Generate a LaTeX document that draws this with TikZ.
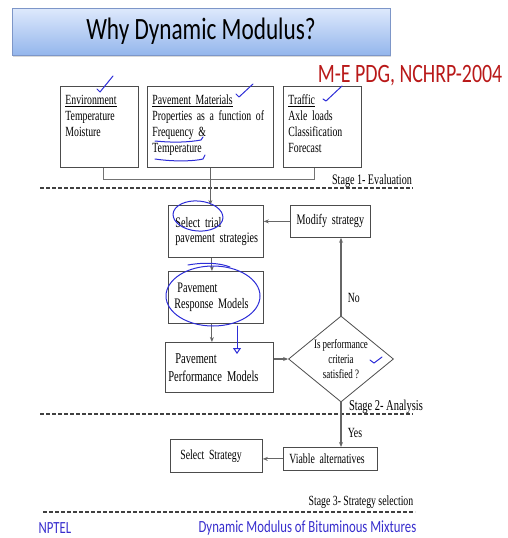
\documentclass[tikz,border=0pt]{standalone}
\usepackage{fontspec}
\setmainfont[FakeStretch=0.7]{Liberation Serif}
\newfontfamily\slidefont[FakeStretch=0.75]{Carlito}
\usepackage{tikz}
\usetikzlibrary{calc,positioning,arrows.meta,shapes.geometric,shadows}
\definecolor{penblue}{RGB}{45,45,215}
\definecolor{nchrpred}{RGB}{185,25,25}
\definecolor{footblue}{RGB}{55,45,205}
\definecolor{titletop}{RGB}{222,233,252}
\definecolor{titlebot}{RGB}{148,182,236}
\definecolor{titleedge}{RGB}{125,150,200}
\newcommand\flowsize[2]{\fontsize{#1}{#2}\selectfont\spaceskip=0.17em plus 0.05em minus 0.03em\relax}
\tikzset{
	>={Stealth[length=5pt,width=4pt]},
	box/.style={draw=black!70, line width=0.8pt, align=left, inner xsep=6pt, anchor=north west, font=\flowsize{14}{16}},
	flow/.style={->, draw=black!60, line width=1.1pt},
	joint/.style={draw=black!55, line width=1pt},
	stagetext/.style={font=\flowsize{14.5}{15}, inner sep=0pt},
	stageline/.style={draw=black!75, line width=1.3pt, dash pattern=on 4pt off 2pt},
	pen/.style={draw=penblue, line width=1pt, line cap=round, line join=round},
	titlebox/.style={draw=titleedge, top color=titletop, bottom color=titlebot,
		minimum width=378pt, minimum height=47pt,
		drop shadow={shadow xshift=1pt, shadow yshift=-2pt, opacity=.3},
		font=\slidefont\fontsize{31}{33}\selectfont},
}

\begin{document}
\begin{tikzpicture}[x=1pt, y=-1pt]
	\useasboundingbox (0,0) rectangle (508,538);

	\node[titlebox] (title) at (201,31.5) {Why Dynamic Modulus?};
	\node[text=nchrpred, font=\slidefont\fontsize{26.5}{28}\selectfont] (source) at (410,76) {M-E PDG, NCHRP-2004};

	% stage 1
	\node[box, text width=68pt, inner xsep=5pt, text height=13pt, text depth=58pt, inner ysep=5pt] (env) at (60,86)
		{\underline{Environment}\\Temperature\\Moisture};
	\node[box, text width=116pt, inner xsep=5pt, text height=13pt, text depth=58pt, inner ysep=5pt] (matl) at (147,86)
		{\underline{Pavement Materials}\\Properties as a function of\\Frequency \&\\Temperature};
	\node[box, text width=68pt, inner xsep=5pt, text height=13pt, text depth=58pt, inner ysep=5pt] (traffic) at (283,86)
		{\underline{Traffic}\\Axle loads\\Classification\\Forecast};
	\draw[joint] ([xshift=4pt]env.south) |- ([yshift=-12pt]matl.south) -| ([xshift=-8pt]traffic.south);
	\node[stagetext] (stage1) at (372,181) {Stage 1- Evaluation};
	\draw[stageline] (40,188) -- (413,188);

	% stage 2
	\node[box, text width=89pt, inner xsep=3pt, minimum height=52pt, font=\flowsize{14.5}{15}] (trial) at (168,205)
		{\hspace{4pt}Select trial\\\hspace{4pt}pavement strategies};
	\node[box, text width=72pt, inner xsep=4pt, minimum height=32pt, align=center, font=\flowsize{14.5}{15}] (modify) at (290,205)
		{Modify strategy};
	\node[box, text width=83pt, minimum height=52pt, font=\flowsize{14.5}{16}] (response) at (168,271)
		{\hspace{3pt}Pavement\\Response Models};
	\node[box, text width=102pt, minimum height=50pt, inner xsep=3pt, font=\flowsize{15}{18}] (perf) at (165,342)
		{\hspace{7pt}Pavement\\Performance Models};
	\node[diamond, draw=black!70, line width=0.8pt, aspect=1.2, inner sep=0pt, minimum width=105pt, minimum height=86pt,
		align=center, font=\flowsize{12.8}{15}] (crit) at (341,359)
		{Is performance\\criteria\\satisfied ?};
	\draw[flow] (matl.south) -- (matl.south |- trial.north);
	\draw[flow] (modify.west) -- (modify.west -| trial.east);
	\draw[flow] ([xshift=-4pt]trial.south) -- ([xshift=-4pt]response.north);
	\draw[flow] ([xshift=-4pt]response.south) -- ([xshift=-4pt]response.south |- perf.north);
	\draw[flow] (crit.west -| perf.east) -- (crit.west);
	\draw[flow] (crit.north) -- node[pos=0.23, right=3pt, font=\flowsize{14}{15}] (nolbl) {No} (crit.north |- modify.south);
	\node[stagetext, font=\flowsize{15}{16}] (stage2) at (386,407) {Stage 2- Analysis};
	\draw[stageline] (40,414) -- (413,414);

	% stage 3
	\node[box, text width=80pt, minimum height=33pt, font=\flowsize{14}{15}] (selstrat) at (170,439)
		{\hspace{4pt}Select Strategy};
	\node[box, text width=82pt, minimum height=23pt, font=\flowsize{14}{15}] (viable) at (283,447)
		{Viable alternatives};
	\draw[flow] (crit.south) -- node[pos=0.69, right=3pt, font=\flowsize{14}{15}] (yeslbl) {Yes} (crit.south |- viable.north);
	\draw[flow] (viable.west) -- (viable.west -| selstrat.east);
	\node[stagetext, font=\flowsize{14}{15}] (stage3) at (361,502) {Stage 3- Strategy selection};
	\draw[stageline] (43,512) -- (415,512);

	\node[text=footblue, font=\slidefont\fontsize{17}{19}\selectfont] (nptel) at (55,528) {NPTEL};
	\node[text=footblue, font=\slidefont\fontsize{17}{19}\selectfont] (course) at (307.5,528) {Dynamic Modulus of Bituminous Mixtures};

	% pen marks
	\draw[pen] (97,89) -- (100,92) -- (113,76);
	\draw[pen] (236,94) -- (239,97) -- (253,84);
	\draw[pen] (323,99) -- (326,101) -- (342,86);
	\draw[pen] (155,141) .. controls (175,143) and (190,142) .. (201,140) -- (203,137);
	\draw[pen] (155,159) .. controls (175,162) and (195,161) .. (203,159) -- (205,155);
	\draw[pen, rotate around={-5:(198,216)}] (198,216) ellipse [x radius=25pt, y radius=15pt];
	\draw[pen] (213,296) ellipse [x radius=47pt, y radius=30pt];
	\draw[pen] (188,265) .. controls (205,262) and (220,263) .. (230,267);
	\draw[pen, -{Triangle[open, length=6pt, width=8pt]}] (237,326) -- (237,354);
	\draw[pen] (370,360) -- (374,363) -- (382,357);
\end{tikzpicture}
\end{document}
